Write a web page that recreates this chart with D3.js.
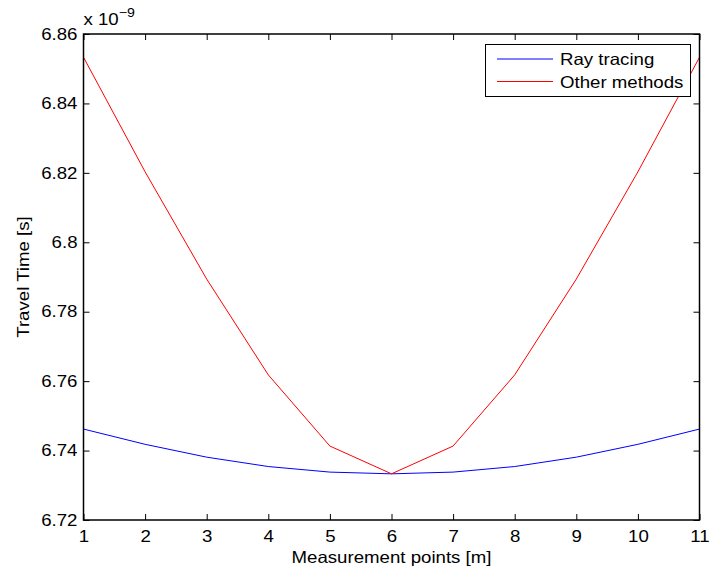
<!DOCTYPE html>
<html>
<head>
<meta charset="utf-8">
<script src="https://cdn.jsdelivr.net/npm/d3@7"></script>
<style>
  html, body { margin: 0; padding: 0; background: #fff; }
  svg text { font-family: "Liberation Sans", Arial, Helvetica, sans-serif; fill: #000; }
</style>
</head>
<body>
<script>
// Measurement points along the profile [m]
const points = [1, 2, 3, 4, 5, 6, 7, 8, 9, 10, 11];
// Travel times, in units of 1e-9 s
const rayTracing   = [6.7462, 6.7418, 6.7381, 6.7354, 6.7338, 6.7333, 6.7338, 6.7354, 6.7381, 6.7418, 6.7462];
const otherMethods = [6.8533, 6.8203, 6.7894, 6.7618, 6.7413, 6.7333, 6.7413, 6.7618, 6.7894, 6.8203, 6.8533];
const xTicks = [1, 2, 3, 4, 5, 6, 7, 8, 9, 10, 11];
const yTicks = [6.72, 6.74, 6.76, 6.78, 6.80, 6.82, 6.84, 6.86];
const seriesNames = ["Ray tracing", "Other methods"];
const seriesColors = ["#0000ff", "#ff0000"];

const W = 710, H = 575;
const m = { left: 83.5, right: 10.5, top: 34, bottom: 55 };
const iw = W - m.left - m.right, ih = H - m.top - m.bottom;
const FS = 16.5;       // text size
const STRETCH = 1.13;  // slightly wide glyphs

const svg = d3.select("body").append("svg").attr("width", W).attr("height", H);

const x = d3.scaleLinear().domain([1, 11]).range([m.left, m.left + iw]);
const y = d3.scaleLinear().domain([6.72, 6.86]).range([m.top + ih, m.top]);

const fmtY = v => d3.format(".2f")(v).replace(/0$/, "").replace(/\.$/, "");

// axes with inward ticks
const tk = 6;
svg.append("g").attr("transform", `translate(0,${m.top + ih})`)
  .call(d3.axisBottom(x).tickValues(xTicks).tickSizeInner(-tk).tickSizeOuter(0).tickPadding(10))
  .call(g => g.select(".domain").remove());
svg.append("g").attr("transform", `translate(0,${m.top})`)
  .call(d3.axisTop(x).tickValues(xTicks).tickSizeInner(-tk).tickSizeOuter(0).tickFormat(""))
  .call(g => g.select(".domain").remove());
svg.append("g").attr("transform", `translate(${m.left},0)`)
  .call(d3.axisLeft(y).tickValues(yTicks).tickSizeInner(-tk).tickSizeOuter(0).tickPadding(6).tickFormat(fmtY))
  .call(g => g.select(".domain").remove());
svg.append("g").attr("transform", `translate(${m.left + iw},0)`)
  .call(d3.axisRight(y).tickValues(yTicks).tickSizeInner(-tk).tickSizeOuter(0).tickFormat(""))
  .call(g => g.select(".domain").remove());

svg.selectAll(".tick line").attr("stroke", "#000").attr("stroke-width", 1);
svg.selectAll(".tick text").attr("font-size", FS).attr("font-family", "Liberation Sans, Arial, sans-serif");

// data lines
const line = d3.line().x((d, i) => x(points[i])).y(d => y(d));
[rayTracing, otherMethods].forEach((s, k) => {
  svg.append("path").datum(s).attr("d", line)
    .attr("fill", "none").attr("stroke", seriesColors[k]).attr("stroke-width", 1);
});

// box
svg.append("rect").attr("x", m.left).attr("y", m.top).attr("width", iw).attr("height", ih)
  .attr("fill", "none").attr("stroke", "#000").attr("stroke-width", 1.5);

// exponent label
const ex = svg.append("text").attr("x", m.left).attr("y", 25).attr("font-size", FS);
ex.append("tspan").text("x 10");
ex.append("tspan").attr("dy", -8).attr("font-size", 12.5).text("−9");

// axis titles
svg.append("text").attr("x", m.left + iw / 2).attr("y", 563).attr("text-anchor", "middle")
  .attr("font-size", FS).text("Measurement points [m]");
svg.append("text").attr("transform", `translate(29,${m.top + ih / 2}) rotate(-90)`)
  .attr("text-anchor", "middle").attr("font-size", FS).text("Travel Time [s]");

// legend
const lg = svg.append("g");
lg.append("rect").attr("x", 485.5).attr("y", 44.5).attr("width", 205).attr("height", 52)
  .attr("fill", "#fff").attr("stroke", "#000").attr("stroke-width", 1);
seriesNames.forEach((n, k) => {
  const cy = 59 + k * 22.5;
  lg.append("line").attr("x1", 497).attr("x2", 553).attr("y1", cy).attr("y2", cy)
    .attr("stroke", seriesColors[k]).attr("stroke-width", 1);
  lg.append("text").attr("x", 560).attr("y", cy + 6).attr("font-size", FS).text(n);
});

// widen glyphs a little for every text run
svg.selectAll("text").each(function () {
  const runs = this.querySelectorAll("tspan");
  const targets = runs.length ? Array.from(runs) : [this];
  targets.forEach(t => {
    const w = t.getComputedTextLength();
    if (w > 0) d3.select(t).attr("textLength", w * STRETCH).attr("lengthAdjust", "spacingAndGlyphs");
  });
});
</script>
</body>
</html>
